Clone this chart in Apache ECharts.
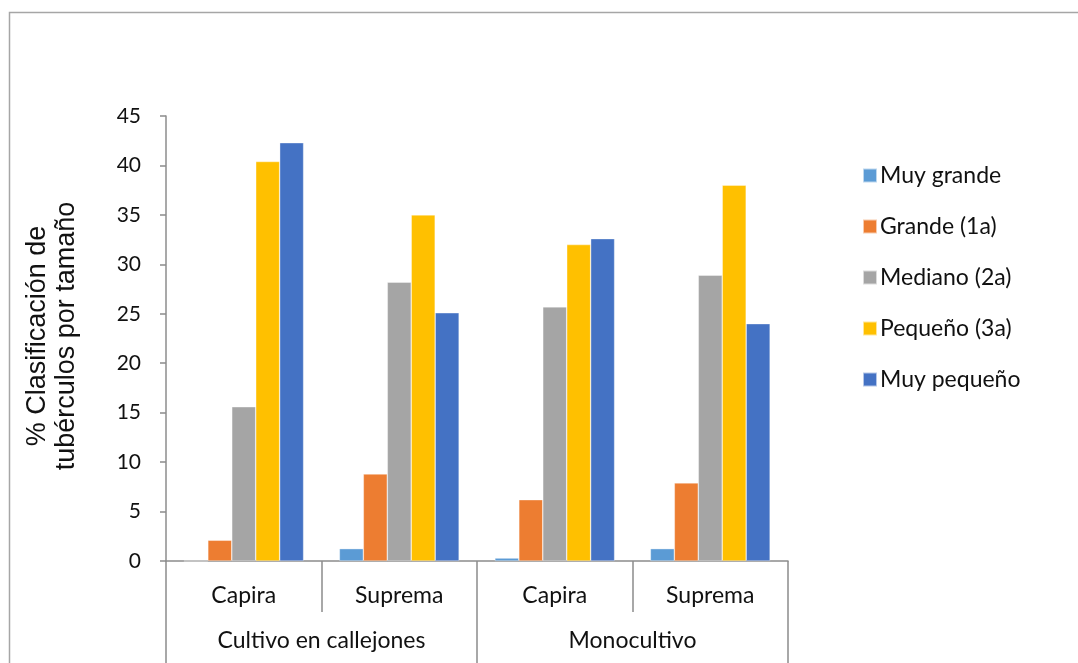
<!DOCTYPE html>
<html>
<head>
<meta charset="utf-8">
<script src="https://cdn.jsdelivr.net/npm/echarts@6/dist/echarts.min.js"></script>
<style>
  html, body { margin: 0; padding: 0; background: #fff; }
  #chart { width: 1078px; height: 663px; }
</style>
</head>
<body>
<div id="chart"></div>
<script>
// Varieties (inner axis) and cropping systems (outer axis)
const categories = ['Capira', 'Suprema', 'Capira', 'Suprema'];
const groups = ['Cultivo en callejones', 'Monocultivo'];

// Percentage of tubers in each size class
const muyGrande  = [0.0, 1.25, 0.3, 1.25];
const grande     = [2.1, 8.8, 6.2, 7.9];
const mediano    = [15.6, 28.2, 25.7, 28.9];
const pequeno    = [40.4, 35.0, 32.0, 38.0];
const muyPequeno = [42.3, 25.1, 32.6, 24.0];

const seriesNames = ['Muy grande', 'Grande (1a)', 'Mediano (2a)', 'Pequeño (3a)', 'Muy pequeño'];
const seriesData = [muyGrande, grande, mediano, pequeno, muyPequeno];
const colors = ['#5B9BD5', '#ED7D31', '#A5A5A5', '#FFC000', '#4472C4'];

const yTitle = '% Clasificación de\ntubérculos por tamaño';

const axisGrey = '#8c8c8c';
const labelFont = 'Lato, "Open Sans", sans-serif';

const chart = echarts.init(document.getElementById('chart'), null, { renderer: 'canvas' });

chart.setOption({
  animation: false,
  backgroundColor: '#fff',
  color: colors,
  grid: { left: 166, right: 290, top: 116, bottom: 102, containLabel: false },
  legend: {
    orient: 'vertical',
    left: 857,
    top: 159,
    itemWidth: 14,
    itemHeight: 14,
    itemGap: 28,
    icon: 'rect',
    data: seriesNames,
    textStyle: { fontFamily: labelFont, fontSize: 23, color: '#111', lineHeight: 20, padding: [0, 0, 0, -2] }
  },
  xAxis: [
    {
      type: 'category',
      data: categories,
      position: 'bottom',
      axisLine: { show: true, lineStyle: { color: axisGrey, width: 1.5 } },
      axisTick: { show: true, length: 51, interval: 0, lineStyle: { color: axisGrey, width: 1.5 } },
      axisLabel: { interval: 0, margin: 23, fontFamily: labelFont, fontSize: 23, color: '#111' }
    },
    {
      type: 'category',
      data: groups,
      position: 'bottom',
      axisLine: { show: false },
      axisTick: { show: true, length: 104, interval: 0, lineStyle: { color: axisGrey, width: 1.5 } },
      axisLabel: { interval: 0, margin: 68, fontFamily: labelFont, fontSize: 23, color: '#111' }
    }
  ],
  yAxis: {
    type: 'value',
    min: 0,
    max: 45,
    interval: 5,
    splitLine: { show: false },
    axisLine: { show: true, lineStyle: { color: axisGrey, width: 1.5 } },
    axisTick: { show: true, length: 6, lineStyle: { color: axisGrey, width: 1.5 } },
    axisLabel: { margin: 25, fontFamily: labelFont, fontSize: 21, color: '#111' }
  },
  series: seriesNames.map((name, i) => ({
    name: name,
    type: 'bar',
    xAxisIndex: 0,
    data: seriesData[i],
    barGap: '0%',
    barCategoryGap: '23%',
    itemStyle: { color: colors[i], borderColor: 'rgba(255,255,255,0.6)', borderWidth: 0.6 }
  })),
  graphic: [
    {
      type: 'text',
      x: 52,
      y: 336,
      rotation: Math.PI / 2,
      style: {
        text: yTitle,
        font: '27px "Liberation Sans", Arial, sans-serif',
        fill: '#111',
        align: 'center',
        verticalAlign: 'middle',
        lineHeight: 29
      }
    },
    {
      type: 'polyline',
      shape: { points: [[9.5, 663], [9.5, 12.5], [1078, 12.5]] },
      style: { stroke: '#a6a6a6', lineWidth: 1.5, fill: null }
    }
  ]
});
</script>
</body>
</html>
